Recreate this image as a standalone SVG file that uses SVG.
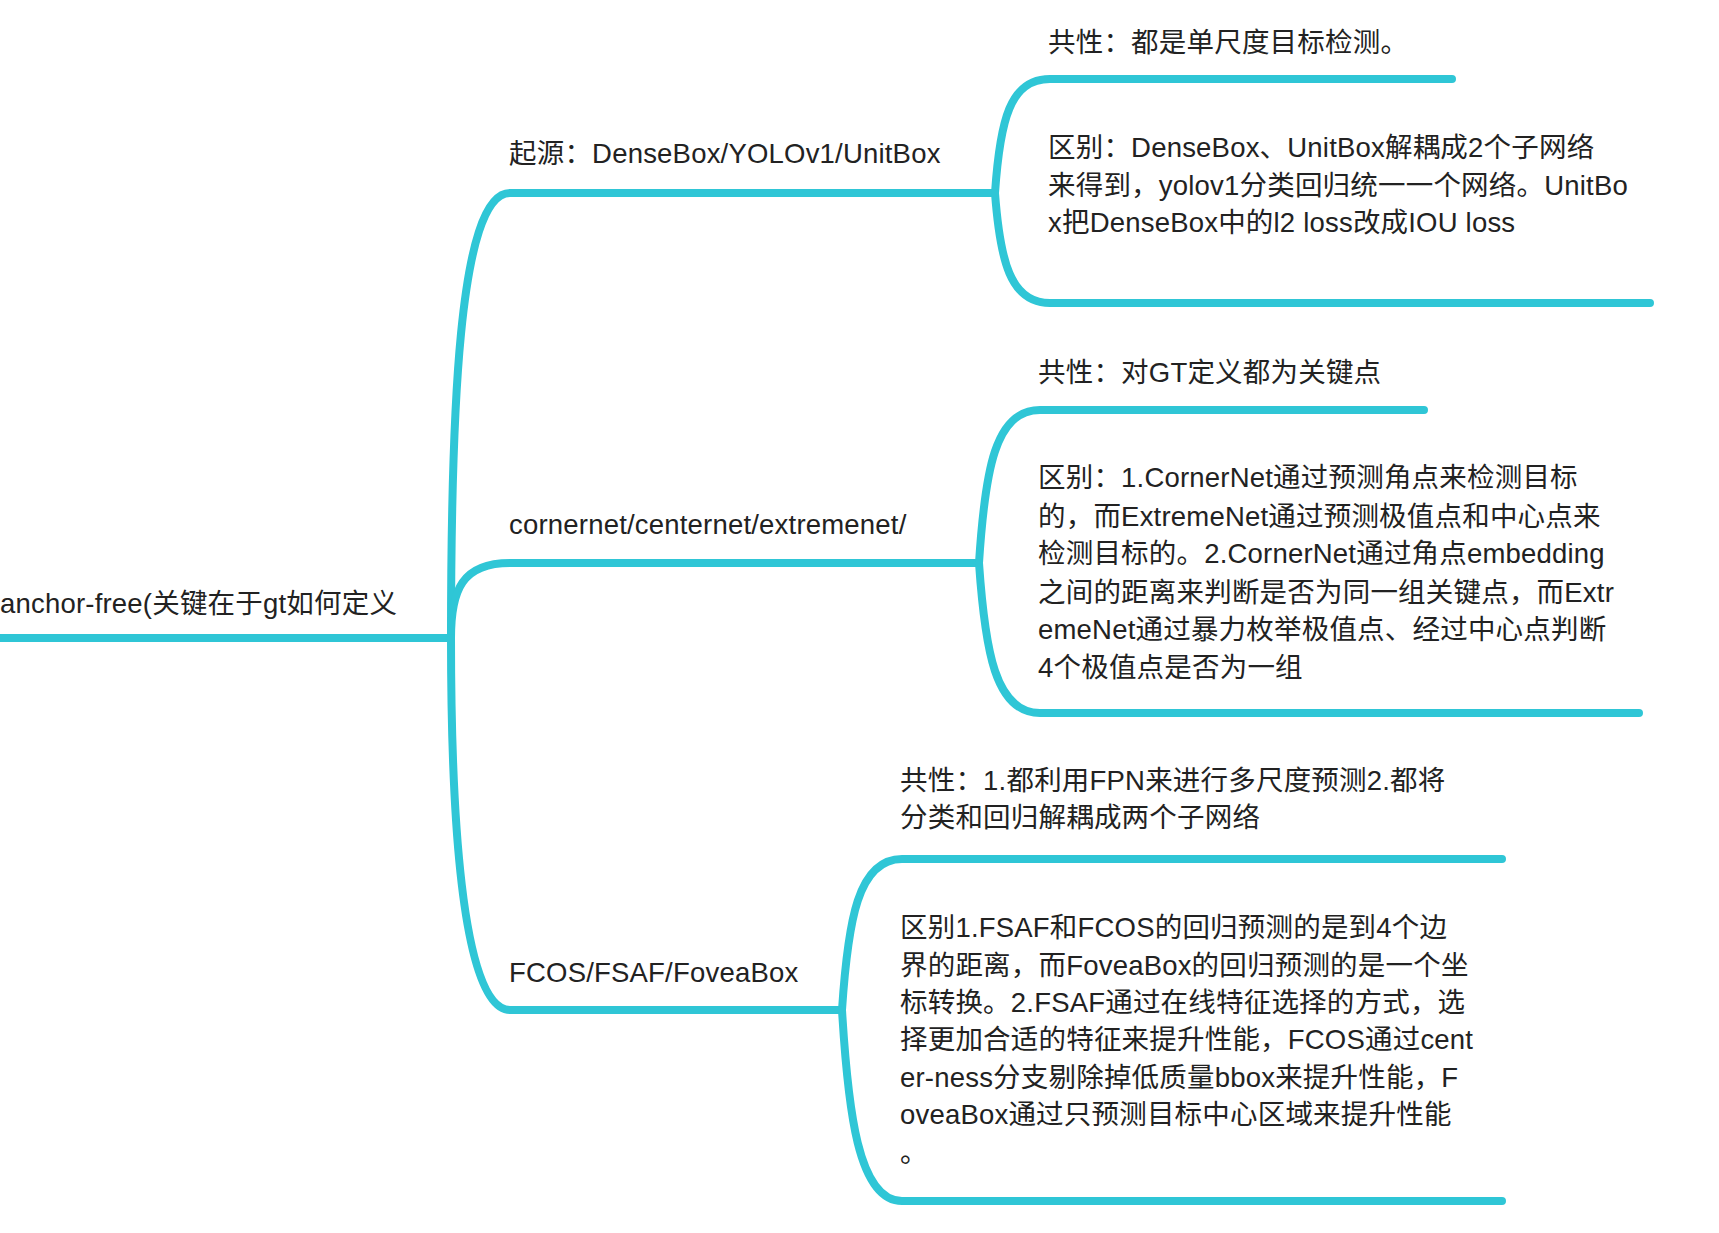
<svg xmlns="http://www.w3.org/2000/svg" width="1719" height="1233" viewBox="0 0 1719 1233">
<style>
.l{fill:none;stroke:#2fc6d6;stroke-width:8;stroke-linecap:round}
text{font-family:"Liberation Sans","Noto Sans CJK SC",sans-serif;font-size:27.5px;fill:#222;letter-spacing:0.2px}
</style>
<rect width="1719" height="1233" fill="#fff"/>
<g id="connectors">
<path class="l" d="M0,638 H451"/>
<path class="l" d="M451,638 C451,420 458,193 510,193 H995"/>
<path class="l" d="M451,638 C451,590 462,563 510,563 H979"/>
<path class="l" d="M451,638 C451,800 460,1010 510,1010 H842"/>
<path class="l" d="M995,193 C1000,120 1010,79 1050,79 H1452"/>
<path class="l" d="M995,193 C1000,260 1010,303 1050,303 H1650"/>
<path class="l" d="M979,563 C985,470 995,410 1040,410 H1424"/>
<path class="l" d="M979,563 C985,650 995,713 1040,713 H1639"/>
<path class="l" d="M842,1010 C848,920 858,859 902,859 H1502"/>
<path class="l" d="M842,1010 C848,1110 858,1201 902,1201 H1502"/>
</g>
<g id="root"><text x="0" y="613">anchor-free(关键在于gt如何定义</text></g>
<g id="b1"><text x="509" y="163">起源：DenseBox/YOLOv1/UnitBox</text></g>
<g id="b2"><text x="509" y="534">cornernet/centernet/extremenet/</text></g>
<g id="b3"><text x="509" y="982">FCOS/FSAF/FoveaBox</text></g>
<g id="b1a"><text x="1048" y="52">共性：都是单尺度目标检测。</text></g>
<g id="b1b">
<text x="1048" y="157">区别：DenseBox、UnitBox解耦成2个子网络</text>
<text x="1048" y="195">来得到，yolov1分类回归统一一个网络。UnitBo</text>
<text x="1048" y="232">x把DenseBox中的l2 loss改成IOU loss</text>
</g>
<g id="b2a"><text x="1038" y="382">共性：对GT定义都为关键点</text></g>
<g id="b2b">
<text x="1038" y="487">区别：1.CornerNet通过预测角点来检测目标</text>
<text x="1038" y="526">的，而ExtremeNet通过预测极值点和中心点来</text>
<text x="1038" y="563">检测目标的。2.CornerNet通过角点embedding</text>
<text x="1038" y="602">之间的距离来判断是否为同一组关键点，而Extr</text>
<text x="1038" y="639">emeNet通过暴力枚举极值点、经过中心点判断</text>
<text x="1038" y="677">4个极值点是否为一组</text>
</g>
<g id="b3a">
<text x="900" y="790">共性：1.都利用FPN来进行多尺度预测2.都将</text>
<text x="900" y="827">分类和回归解耦成两个子网络</text>
</g>
<g id="b3b">
<text x="900" y="937">区别1.FSAF和FCOS的回归预测的是到4个边</text>
<text x="900" y="975">界的距离，而FoveaBox的回归预测的是一个坐</text>
<text x="900" y="1012">标转换。2.FSAF通过在线特征选择的方式，选</text>
<text x="900" y="1049">择更加合适的特征来提升性能，FCOS通过cent</text>
<text x="900" y="1087">er-ness分支剔除掉低质量bbox来提升性能，F</text>
<text x="900" y="1124">oveaBox通过只预测目标中心区域来提升性能</text>
<text x="900" y="1162">。</text>
</g>
</svg>
